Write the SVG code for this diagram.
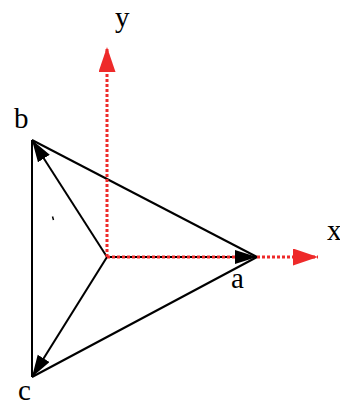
<svg xmlns="http://www.w3.org/2000/svg" width="340" height="408" viewBox="0 0 340 408">
  <style>
    .edge { stroke: #000; stroke-width: 2; fill: none; }
    .axis { stroke: #ee2a2a; stroke-width: 3; stroke-dasharray: 3 2; fill: none; }
    .lbl { font-family: "Liberation Serif", "Times New Roman", serif; font-size: 29px; fill: #000; }
  </style>
  <defs>
    <marker id="ah" markerUnits="userSpaceOnUse" markerWidth="24" markerHeight="16" refX="22" refY="7" orient="auto">
      <path d="M0,0 L22,7 L0,14 z" fill="#000"/>
    </marker>
    <marker id="rh" markerUnits="userSpaceOnUse" markerWidth="27" markerHeight="18" refX="25" refY="8.5" orient="auto">
      <path d="M0,0 L25,8.5 L0,17 z" fill="#ee2a2a"/>
    </marker>
  </defs>
  <rect width="340" height="408" fill="#fff"/>
  <g id="connectors">
    <path id="edge-b-c" class="edge" d="M32,140 L32,377"/>
    <path id="edge-b-a" class="edge" d="M32,140 L257,257"/>
    <path id="edge-a-c" class="edge" d="M257,257 L32,377"/>
    <path id="vec-o-a" class="edge" d="M107,257 L257,257" marker-end="url(#ah)"/>
    <path id="vec-o-b" class="edge" d="M107,257 L32,140" marker-end="url(#ah)"/>
    <path id="vec-o-c" class="edge" d="M107,257 L32,377" marker-end="url(#ah)"/>
    <path id="axis-y" class="axis" d="M107,257 L107,47" marker-end="url(#rh)"/>
    <path id="axis-x" class="axis" d="M107,257 L235,257 M257,257 L318,257" marker-end="url(#rh)"/>
    <path d="M52.5,216.5 L53.5,220" stroke="#000" stroke-width="1.5"/>
  </g>
  <g id="label-y"><text class="lbl" x="115" y="27">y</text></g>
  <g id="label-b"><text class="lbl" x="14" y="128">b</text></g>
  <g id="label-x"><text class="lbl" x="327" y="240">x</text></g>
  <g id="label-a"><text class="lbl" x="231" y="288">a</text></g>
  <g id="label-c"><text class="lbl" x="18" y="400">c</text></g>
</svg>
